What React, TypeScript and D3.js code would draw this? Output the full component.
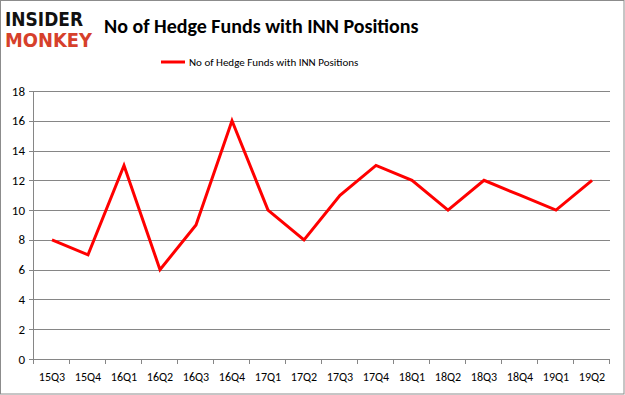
import React, { useEffect, useRef } from 'react'
import * as d3 from 'd3'

const quarters = ['15Q3', '15Q4', '16Q1', '16Q2', '16Q3', '16Q4', '17Q1', '17Q2',
  '17Q3', '17Q4', '18Q1', '18Q2', '18Q3', '18Q4', '19Q1', '19Q2']
const funds = [8, 7, 13, 6, 9, 16, 10, 8, 11, 13, 12, 10, 12, 11, 10, 12]
const yTicks = [0, 2, 4, 6, 8, 10, 12, 14, 16, 18]
const seriesName = 'No of Hedge Funds with INN Positions'

const width = 625
const height = 395
const font = 'Carlito, Calibri, "Open Sans", "Liberation Sans", sans-serif'

export default function App() {
  const ref = useRef<SVGSVGElement>(null)

  useEffect(() => {
    document.body.style.margin = '0'
    const svg = d3.select(ref.current)
    svg.selectAll('*').remove()

    const left = 34, right = 610, top = 91, bottom = 359

    // frame
    svg.append('rect')
      .attr('x', 0.5).attr('y', 0.5)
      .attr('width', width - 1.5).attr('height', height - 1.5)
      .attr('fill', '#fff').attr('stroke', '#8c8c8c')

    const x = d3.scaleBand().domain(quarters).range([left, right])
    const y = d3.scaleLinear().domain([0, 18]).range([bottom, top])

    // gridlines
    svg.append('g').selectAll('line').data(yTicks).enter().append('line')
      .attr('x1', left - 5).attr('x2', right)
      .attr('y1', d => Math.round(y(d)) + 0.5).attr('y2', d => Math.round(y(d)) + 0.5)
      .attr('stroke', '#868686').attr('stroke-width', 1)

    // y axis line
    svg.append('line')
      .attr('x1', left - 0.5).attr('x2', left - 0.5)
      .attr('y1', top).attr('y2', bottom)
      .attr('stroke', '#868686')

    // x ticks
    const xt = quarters.map((_, i) => left + i * x.step()).concat([right])
    svg.append('g').selectAll('line').data(xt).enter().append('line')
      .attr('x1', d => Math.round(d) - 0.5).attr('x2', d => Math.round(d) - 0.5)
      .attr('y1', bottom).attr('y2', bottom + 5)
      .attr('stroke', '#868686')

    // y labels
    svg.append('g').selectAll('text').data(yTicks).enter().append('text')
      .attr('x', left - 9).attr('y', d => y(d) + 4.5)
      .attr('text-anchor', 'end')
      .attr('font-family', font).attr('font-size', 13)
      .attr('fill', '#000')
      .text(d => d)

    // x labels
    svg.append('g').selectAll('text').data(quarters).enter().append('text')
      .attr('x', d => (x(d) as number) + x.bandwidth() / 2)
      .attr('y', bottom + 22)
      .attr('text-anchor', 'middle')
      .attr('font-family', font).attr('font-size', 12)
      .attr('fill', '#000')
      .text(d => d)

    // series line
    const line = d3.line<number>()
      .x((_, i) => (x(quarters[i]) as number) + x.bandwidth() / 2)
      .y(d => y(d))
    svg.append('path')
      .datum(funds)
      .attr('d', line)
      .attr('fill', 'none')
      .attr('stroke', '#ff0000')
      .attr('stroke-width', 3)
      .attr('stroke-linejoin', 'miter')

    // title
    svg.append('text')
      .attr('x', 104).attr('y', 33)
      .attr('font-family', font).attr('font-size', 20).attr('font-weight', 'bold')
      .attr('fill', '#000')
      .text(seriesName)

    // legend
    svg.append('line')
      .attr('x1', 161).attr('x2', 185).attr('y1', 62).attr('y2', 62)
      .attr('stroke', '#ff0000').attr('stroke-width', 3)
    svg.append('text')
      .attr('x', 189).attr('y', 66)
      .attr('font-family', font).attr('font-size', 11)
      .attr('fill', '#000')
      .text(seriesName)

    // logo
    svg.append('text')
      .attr('x', 5).attr('y', 26)
      .attr('font-family', '"DejaVu Sans", sans-serif').attr('font-size', 19).attr('font-weight', 'bold')
      .attr('textLength', 78).attr('lengthAdjust', 'spacingAndGlyphs')
      .attr('fill', '#111')
      .text('INSIDER')
    svg.append('text')
      .attr('x', 5).attr('y', 47)
      .attr('font-family', '"DejaVu Sans", sans-serif').attr('font-size', 19).attr('font-weight', 'bold')
      .attr('textLength', 87).attr('lengthAdjust', 'spacingAndGlyphs')
      .attr('fill', '#d6402b')
      .text('MONKEY')
  }, [])

  return <svg ref={ref} width={width} height={height} style={{ display: 'block' }} />
}
